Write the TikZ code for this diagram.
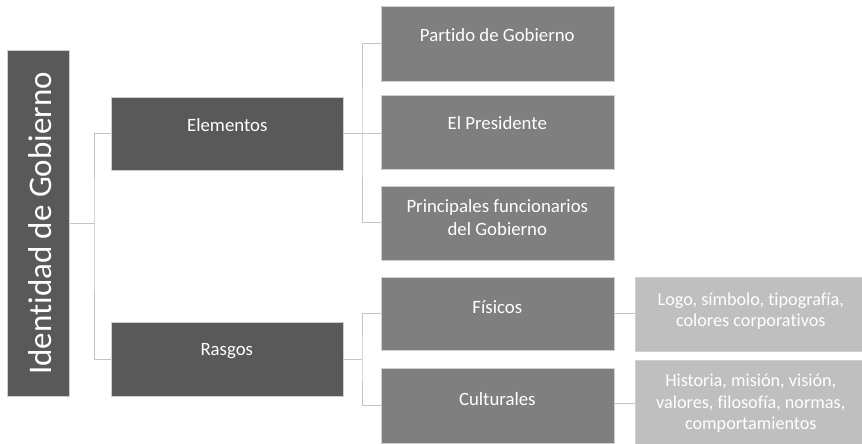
\documentclass[tikz,border=0pt]{standalone}
\usepackage{fontspec}
\setmainfont{Carlito}[Ligatures={NoCommon}]
\definecolor{lvA}{HTML}{595959}
\definecolor{lvB}{HTML}{7F7F7F}
\definecolor{lvC}{HTML}{BFBFBF}
\definecolor{edge}{HTML}{CFCFCF}
\definecolor{wire}{HTML}{C4C4C4}
\begin{document}
\begin{tikzpicture}[x=1pt,y=-1pt,
  box/.style={rectangle, inner sep=0pt, anchor=north west, draw=edge, line width=0.6pt},
  boxA/.style={box, fill=lvA},
  boxB/.style={box, fill=lvB},
  boxC/.style={box, fill=lvC},
  txtB/.style={text=white, align=center, inner sep=0pt, font=\fontsize{18.8}{23}\selectfont},
  txtC/.style={text=white, align=center, inner sep=0pt, font=\fontsize{18.2}{21.5}\selectfont},
  conn/.style={draw=wire, line width=1pt}]
\useasboundingbox (0,0) rectangle (862,444);

% boxes
\node[boxA, minimum width=62pt, minimum height=346pt] (root) at (7,50) {};
\node[boxA, minimum width=232pt, minimum height=73pt] (elem) at (111,96.5) {};
\node[boxA, minimum width=232pt, minimum height=74pt] (rasg) at (110.5,322) {};
\node[boxB, minimum width=233pt, minimum height=75pt] (part) at (380.5,6) {};
\node[boxB, minimum width=233pt, minimum height=74pt] (pres) at (380.5,95) {};
\node[boxB, minimum width=233pt, minimum height=74pt] (prin) at (380.5,185.5) {};
\node[boxB, minimum width=233pt, minimum height=73pt] (fisi) at (380.5,277) {};
\node[boxB, minimum width=233pt, minimum height=75pt] (cult) at (380.5,368) {};
\node[boxC, minimum width=232pt, minimum height=74pt] (logo) at (634.5,277) {};
\node[boxC, minimum width=232pt, minimum height=86pt] (hist) at (634.5,360) {};

% texts
\node[rotate=90, text=white, inner sep=0pt, font=\fontsize{33}{40}\selectfont] at ([xshift=2pt]root.center) {Identidad de Gobierno};
\node[txtB] at ([yshift=8pt]elem.center) {Elementos};
\node[txtB] at ([yshift=8pt]rasg.center) {Rasgos};
\node[txtB] at ([yshift=9pt]part.center) {Partido de Gobierno};
\node[txtB] at ([yshift=9pt]pres.center) {El Presidente};
\node[txtB] at ([yshift=5pt]prin.center) {Principales funcionarios\\del Gobierno};
\node[txtB] at ([yshift=7pt]fisi.center) {Físicos};
\node[txtB] at ([yshift=7pt]cult.center) {Culturales};
\node[txtC] at ([yshift=3pt]logo.center) {Logo, símbolo, tipografía,\\colores corporativos};
\node[txtC] at ([yshift=0pt]hist.center) {Historia, misión, visión,\\valores, filosofía, normas,\\comportamientos};

% junctions
\coordinate (j1) at (94,223);
\coordinate (j2) at (362,133);
\coordinate (j3) at (362,359);

% connectors
\draw[conn] (root.east |- j1) -- (j1);
\draw[conn] (elem.west) -| (j1) |- (rasg.west);
\draw[conn] (elem.east |- j2) -- (pres.west |- j2);
\draw[conn] (part.west) -| (j2) |- (prin.west);
\draw[conn] (rasg.east |- j3) -- (j3);
\draw[conn] (fisi.west) -| (j3) |- (cult.west);
\draw[conn] (fisi.east) -- (logo.west |- fisi.east);
\draw[conn] ([yshift=2pt]cult.east) -- ([yshift=2pt]logo.west |- cult.east);
\end{tikzpicture}
\end{document}
